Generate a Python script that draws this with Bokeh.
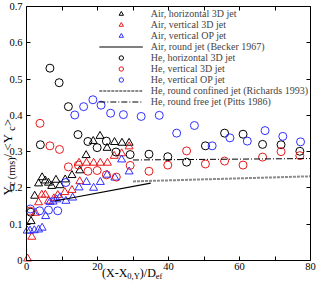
import math
from bokeh.plotting import figure
from bokeh.models import Range1d, FixedTicker, LinearAxis, Legend, LegendItem, Label
from bokeh.embed import file_html
from bokeh.resources import INLINE

FONT = "Liberation Serif"
RED = "#e8191c"
BLUE = "#3030ff"

# ---- data ----
AIR_H_X = [1.3, 2.3, 3.4, 4.4, 5.3, 6.2, 7.1, 8.3, 9.4, 10.9, 12.8, 15.0, 16.8, 18.8, 20.7, 22.7, 24.8, 26.9, 28.9]
AIR_H_Y = [0.108, 0.178, 0.212, 0.229, 0.220, 0.214, 0.205, 0.222, 0.207, 0.223, 0.235, 0.248, 0.290, 0.329, 0.343, 0.310, 0.326, 0.324, 0.324]

AIR_V_X = [0.3, 1.5, 2.5, 3.4, 4.3, 5.3, 6.2, 7.7, 8.8, 10.8, 12.8, 15.0, 14.8, 16.9, 18.9, 20.8, 22.8, 24.7, 26.8, 28.9]
AIR_V_Y = [0.005, 0.065, 0.131, 0.160, 0.181, 0.181, 0.164, 0.171, 0.180, 0.188, 0.194, 0.218, 0.269, 0.269, 0.269, 0.269, 0.269, 0.288, 0.295, 0.314]

AIR_OP_X = [0.2, 1.0, 2.2, 3.4, 4.4, 5.4, 6.6, 7.5, 8.5, 9.4, 11.1, 13.0, 14.8, 16.9, 18.9, 20.8, 22.7, 24.9, 26.8, 28.9]
AIR_OP_Y = [0.082, 0.082, 0.083, 0.085, 0.090, 0.122, 0.161, 0.162, 0.168, 0.174, 0.164, 0.173, 0.201, 0.216, 0.200, 0.216, 0.236, 0.228, 0.278, 0.245]

BECKER_X = [8.0, 35.0]
BECKER_Y = [0.164, 0.213]

HE_H_X = [1.2, 3.9, 6.6, 9.2, 11.8, 14.5, 17.3, 19.9, 22.5, 25.2, 29.2, 34.5, 39.8, 45.1, 50.4, 55.8, 61.0, 66.5, 71.7, 77.0]
HE_H_Y = [0.133, 0.319, 0.530, 0.490, 0.424, 0.347, 0.328, 0.311, 0.329, 0.299, 0.292, 0.293, 0.286, 0.271, 0.316, 0.351, 0.348, 0.320, 0.319, 0.301]

HE_V_X = [1.0, 3.8, 6.6, 9.3, 11.8, 14.6, 17.3, 19.9, 22.5, 25.3, 29.2, 34.5, 39.8, 45.1, 50.4, 55.8, 61.0, 66.5, 71.7, 77.0]
HE_V_Y = [0.136, 0.378, 0.316, 0.306, 0.258, 0.263, 0.246, 0.248, 0.236, 0.230, 0.262, 0.246, 0.263, 0.302, 0.266, 0.274, 0.263, 0.285, 0.300, 0.289]

HE_OP_X = [1.1, 3.7, 6.2, 8.8, 11.1, 13.6, 16.1, 18.7, 21.0, 23.7, 27.3, 32.3, 37.4, 42.3, 47.3, 52.3, 57.3, 62.2, 67.2, 72.2, 77.2]
HE_OP_Y = [0.142, 0.137, 0.139, 0.137, 0.215, 0.401, 0.424, 0.443, 0.428, 0.406, 0.402, 0.397, 0.400, 0.351, 0.372, 0.316, 0.338, 0.329, 0.358, 0.342, 0.327]

RICHARDS_X = [30.0, 80.0]
RICHARDS_Y = [0.218, 0.232]

PITTS_X = [30.0, 80.0]
PITTS_Y = [0.277, 0.281]

X_TICKS = [0, 20, 40, 60, 80]
X_MINOR = [10, 30, 50, 70]
Y_TICKS = [0, 0.1, 0.2, 0.3, 0.4, 0.5, 0.6, 0.7]

LABELS = ["Air, horizontal 3D jet", "Air, vertical 3D jet", "Air, vertical OP jet",
          "Air, round jet (Becker 1967)", "He, horizontal 3D jet", "He, vertical 3D jet",
          "He, vertical OP jet", "He, round confined jet (Richards 1993)",
          "He, round free jet (Pitts 1986)"]

# ---- geometry (canvas px); the frame fills the whole canvas ----
W, H = 316, 281
X0_PX, X80_PX = 26, 310
Y0_PX, Y07_PX = 260, 6
PX_PER_X = (X80_PX - X0_PX) / 80
PX_PER_Y = (Y0_PX - Y07_PX) / 0.7
XMIN = -X0_PX / PX_PER_X
XMAX = 80 + (W - X80_PX) / PX_PER_X
YMIN = -(H - Y0_PX) / PX_PER_Y
YMAX = 0.7 + Y07_PX / PX_PER_Y

p = figure(width=W, height=H, output_backend="svg", toolbar_location=None,
           x_range=Range1d(XMIN, XMAX), y_range=Range1d(YMIN, YMAX),
           min_border=0)
p.grid.visible = False
p.outline_line_color = None


def style_axis(ax, labels=True):
    ax.axis_line_color = "black"
    ax.major_tick_in = 4
    ax.major_tick_out = 0
    ax.minor_tick_in = 4
    ax.minor_tick_out = 0
    ax.major_tick_line_color = "black"
    ax.minor_tick_line_color = "black"
    ax.major_label_text_font = FONT
    ax.major_label_text_color = "black"
    if labels:
        ax.major_label_text_font_size = "10.5px"
    else:
        ax.major_label_text_alpha = 0
        ax.major_label_text_font_size = "1px"
        ax.major_label_standoff = 0


xa = p.xaxis[0]
ya = p.yaxis[0]
xa.ticker = FixedTicker(ticks=X_TICKS, minor_ticks=X_MINOR)
ya.ticker = FixedTicker(ticks=Y_TICKS, minor_ticks=[])
style_axis(xa)
style_axis(ya)
xa.major_label_standoff = 2
ya.major_label_standoff = 4
xa.fixed_location = 0
ya.fixed_location = 0
xa.bounds = (0, 80)
ya.bounds = (0, 0.7)
ya.major_label_overrides = {0: "0"}

top = LinearAxis(ticker=FixedTicker(ticks=X_TICKS, minor_ticks=X_MINOR), bounds=(0, 80),
                 fixed_location=0.7)
right = LinearAxis(ticker=FixedTicker(ticks=Y_TICKS, minor_ticks=[]), bounds=(0, 0.7),
                   fixed_location=80)
style_axis(top, labels=False)
style_axis(right, labels=False)
top.major_label_overrides = {t: "" for t in X_TICKS}
right.major_label_overrides = {0: "", 0.1: "", 0.2: "", 0.3: "", 0.4: "", 0.5: "", 0.6: "", 0.7: ""}
p.add_layout(top, "above")
p.add_layout(right, "right")


def tri(x, y, c):
    return p.scatter(x, y, marker="triangle", size=8, fill_alpha=0, line_color=c, line_width=1)


def circ(x, y, c):
    return p.scatter(x, y, marker="circle", size=8, fill_alpha=0, line_color=c, line_width=1)


r1 = tri(AIR_H_X, AIR_H_Y, "black")
r2 = tri(AIR_V_X, AIR_V_Y, RED)
r3 = tri(AIR_OP_X, AIR_OP_Y, BLUE)
r4 = p.line(BECKER_X, BECKER_Y, line_color="black", line_width=1.2)
r5 = circ(HE_H_X, HE_H_Y, "black")
r6 = circ(HE_V_X, HE_V_Y, RED)
r7 = circ(HE_OP_X, HE_OP_Y, BLUE)
r8 = p.line(RICHARDS_X, RICHARDS_Y, line_color="#8a8a8a", line_width=2, line_dash="3 1")
r9 = p.line(PITTS_X, PITTS_Y, line_color="black", line_width=1, line_dash="6 2 1 2")

legend = Legend(items=[LegendItem(label=l, renderers=[r]) for l, r in
                       zip(LABELS, [r1, r2, r3, r4, r5, r6, r7, r8, r9])],
                location="top_right", margin=8, padding=0, spacing=0,
                glyph_width=44, glyph_height=11, label_height=11, label_standoff=8,
                label_text_font=FONT, label_text_font_size="10px",
                border_line_alpha=0, background_fill_alpha=0)
p.add_layout(legend)


def dx(px):
    return (px - X0_PX) / PX_PER_X


def dy(py):
    return (Y0_PX - py) / PX_PER_Y


def lab(x, y, t, size, angle=0.0, align="left", base="alphabetic"):
    p.add_layout(Label(x=x, y=y, x_units="data", y_units="data", text=t, angle=angle,
                       text_font=FONT, text_font_size=size, text_color="black",
                       text_align=align, text_baseline=base))


# x title: (X-X_{0,Y})/D_ef  (pieces laid out left to right)
px0 = 101.5
lab(dx(px0), dy(272), "(X-X", "12px")
px1 = px0 + 25.3
lab(dx(px1), dy(275.5), "0,Y", "8.5px")
px2 = px1 + 12.5
lab(dx(px2), dy(272), ")/D", "12px")
px3 = px2 + 16.0
lab(dx(px3), dy(275.5), "ef", "8.5px")

# y title: Y_c (rms) / <Y_c>  (pieces centred, reading bottom to top)
A = math.pi / 2
MX, SX = 6.5, 10.5
lab(dx(MX), dy(190.3), "Y", "13px", A, "center", "middle")
lab(dx(SX), dy(171.3), "c (rms)", "10px", A, "center", "middle")
lab(dx(MX), dy(143.6), " / <Y", "13px", A, "center", "middle")
lab(dx(SX), dy(128.0), "c", "10px", A, "center", "middle")
lab(dx(MX), dy(122.2), ">", "13px", A, "center", "middle")

open("out.html", "w").write(file_html(p, INLINE))
